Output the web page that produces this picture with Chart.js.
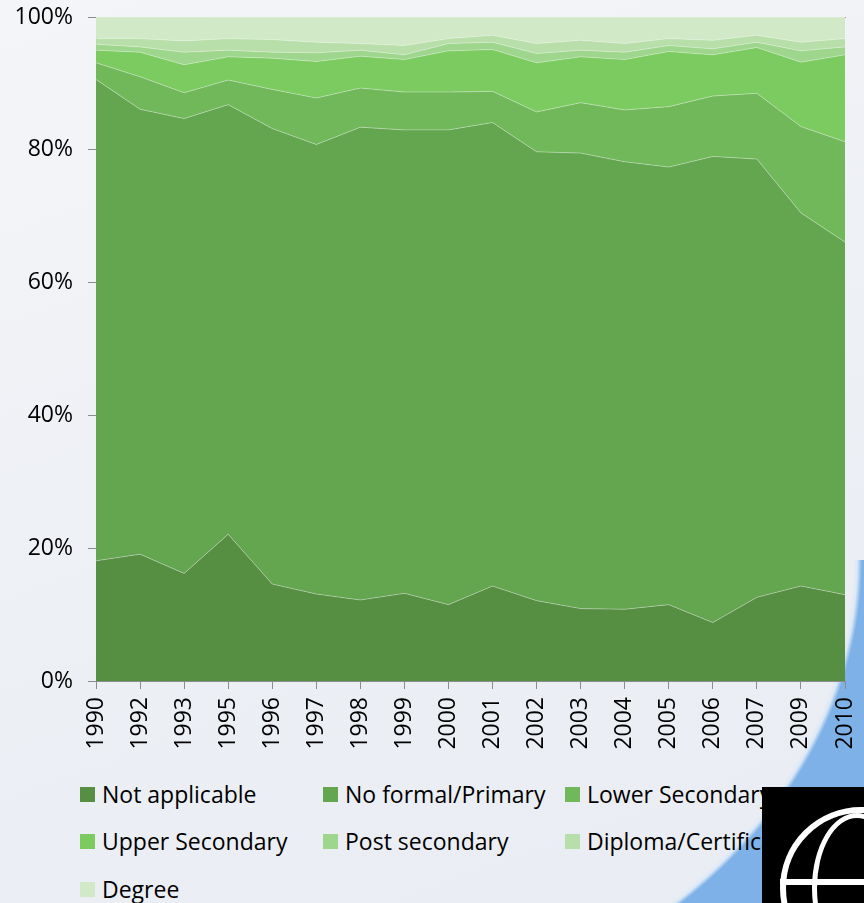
<!DOCTYPE html>
<html>
<head>
<meta charset="utf-8">
<script src="https://cdn.jsdelivr.net/npm/chart.js@4.4.1/dist/chart.umd.min.js"></script>
<style>
    html, body { margin: 0; padding: 0; }
    body {
        width: 864px; height: 903px; overflow: hidden; position: relative;
        background: linear-gradient(160deg, #f4f5f8 0%, #eceff4 60%, #e9edf3 100%);
        font-family: "Open Sans", sans-serif;
    }
    .swoosh {
        position: absolute; left: 0; top: 560px; width: 864px; height: 343px;
        background: radial-gradient(600px 480px at 262px 0px, rgba(0,0,0,0) 98.5%, #dbe8f7 99.2%, #7db1e7 100%);
    }
    .chart { position: absolute; left: 0; top: 0; width: 864px; height: 760px; }
    .legend { position: absolute; left: 0; top: 0; }
    .legend_item {
        position: absolute; display: flex; align-items: center;
        font-size: 23px; color: #000; white-space: nowrap; line-height: 1;
    }
    .legend_box { width: 15px; height: 15px; margin-right: 7px; }
    .logo {
        position: absolute; left: 762px; top: 787px; width: 102px; height: 116px;
        background: #000; overflow: hidden;
    }
    .logo .ring {
        position: absolute; left: 18px; top: 20px; width: 150px; height: 150px;
        border: 6px solid #fff; border-radius: 50%;
    }
    .logo .ring2 {
        position: absolute; left: 50px; top: 26px; width: 80px; height: 140px;
        border: 5px solid #fff; border-radius: 50%;
    }
    .logo .bar {
        position: absolute; left: 18px; top: 92px; width: 90px; height: 6px; background: #fff;
    }
</style>
</head>
<body>
<div class="swoosh"></div>
<div class="chart"><canvas id="educhart" width="864" height="760"></canvas></div>
<div class="legend" id="legend"></div>
<div class="logo"><div class="ring"></div><div class="ring2"></div><div class="bar"></div></div>
<script>
const years = ['1990', '1992', '1993', '1995', '1996', '1997', '1998', '1999', '2000',
    '2001', '2002', '2003', '2004', '2005', '2006', '2007', '2009', '2010'];

const not_applicable = [18.1, 19.1, 16.2, 22.1, 14.6, 13.1, 12.2, 13.2, 11.5, 14.3, 12.1, 10.9, 10.8, 11.5, 8.8, 12.6, 14.3, 13.0];
const no_formal = [72.5, 67.0, 68.5, 64.7, 68.6, 67.7, 71.2, 69.8, 71.5, 69.8, 67.6, 68.6, 67.4, 65.9, 70.2, 66.0, 56.2, 53.1];
const lower_secondary = [2.5, 4.9, 3.9, 3.7, 5.9, 7.0, 5.9, 5.7, 5.7, 4.7, 6.0, 7.6, 7.8, 9.1, 9.1, 9.9, 13.0, 15.1];
const upper_secondary = [1.9, 3.7, 4.2, 3.5, 4.7, 5.5, 4.8, 4.9, 6.2, 6.3, 7.4, 6.9, 7.6, 8.3, 6.2, 6.9, 9.7, 13.1];
const post_secondary = [0.9, 0.8, 1.9, 1.0, 0.9, 1.3, 0.9, 0.7, 1.1, 1.1, 1.4, 1.0, 1.1, 0.9, 0.9, 0.8, 1.7, 1.2];
const diploma = [0.85, 1.25, 1.7, 1.75, 1.9, 1.6, 1.0, 1.4, 0.75, 1.05, 1.5, 1.5, 1.3, 1.05, 1.3, 1.05, 1.3, 1.25];
const degree = [3.25, 3.25, 3.6, 3.25, 3.4, 3.8, 4.0, 4.3, 3.25, 2.75, 4.0, 3.5, 4.0, 3.25, 3.5, 2.75, 3.8, 3.25];

const y_ticks = [0, 20, 40, 60, 80, 100];

const series = [
    ['Not applicable', not_applicable, '#568e42'],
    ['No formal/Primary', no_formal, '#63a64f'],
    ['Lower Secondary', lower_secondary, '#70b85a'],
    ['Upper Secondary', upper_secondary, '#7bcb61'],
    ['Post secondary', post_secondary, '#9ed68d'],
    ['Diploma/Certificate', diploma, '#b8dfa9'],
    ['Degree', degree, '#d1e9c6']
];

let datasets = series.map((s, i) => ({
    label: s[0],
    data: s[1],
    backgroundColor: s[2],
    borderColor: 'rgba(255,255,255,0.35)',
    borderWidth: 1,
    pointRadius: 0,
    tension: 0,
    fill: i == 0 ? 'origin' : '-1'
}));

Chart.defaults.font.family = '"Open Sans", sans-serif';
Chart.defaults.font.size = 23;
Chart.defaults.color = '#000';

let ctx = document.getElementById('educhart').getContext('2d');
let chart = new Chart(ctx, {
    type: 'line',
    data: { labels: years, datasets: datasets },
    options: {
        responsive: false,
        animation: { duration: 0 },
        layout: { padding: { top: 17, right: 19, left: 0, bottom: 0 } },
        plugins: { legend: { display: false }, tooltip: { enabled: false } },
        scales: {
            x: {
                stacked: true,
                offset: false,
                grid: { drawOnChartArea: false, tickLength: 8, color: '#8c8c8c' },
                border: { color: '#8c8c8c' },
                ticks: { minRotation: 90, maxRotation: 90, padding: 8, autoSkip: false },
                afterFit: s => { s.height = 79; s.paddingLeft = 0; s.paddingRight = 0; }
            },
            top: {
                position: 'top',
                type: 'category',
                labels: years,
                grid: { display: false },
                border: { color: '#9a9a9a' },
                ticks: { display: false },
                afterFit: s => { s.height = 0; s.paddingLeft = 0; s.paddingRight = 0; }
            },
            y: {
                stacked: true,
                min: 0,
                max: 100,
                afterBuildTicks: s => { s.ticks = y_ticks.map(v => ({ value: v })); },
                grid: { drawOnChartArea: false, tickLength: 8, color: '#8c8c8c' },
                border: { color: '#8c8c8c' },
                ticks: { padding: 15, callback: v => v + '%' },
                afterFit: s => { s.width = 96; s.paddingTop = 0; s.paddingBottom = 0; }
            }
        }
    }
});

// legend laid out in three fixed columns like the original slide
let legend = document.getElementById('legend');
let col_x = [80, 323, 565];
let row_y = [787, 834, 882];
chart.data.datasets.forEach((ds, i) => {
    let item = document.createElement('div');
    item.className = 'legend_item';
    item.style.left = col_x[i % 3] + 'px';
    item.style.top = (row_y[Math.floor(i / 3)] - 4) + 'px';
    item.innerHTML = '<div class="legend_box" style="background:' + ds.backgroundColor + '"></div><span>' + ds.label + '</span>';
    legend.appendChild(item);
});
</script>
</body>
</html>
